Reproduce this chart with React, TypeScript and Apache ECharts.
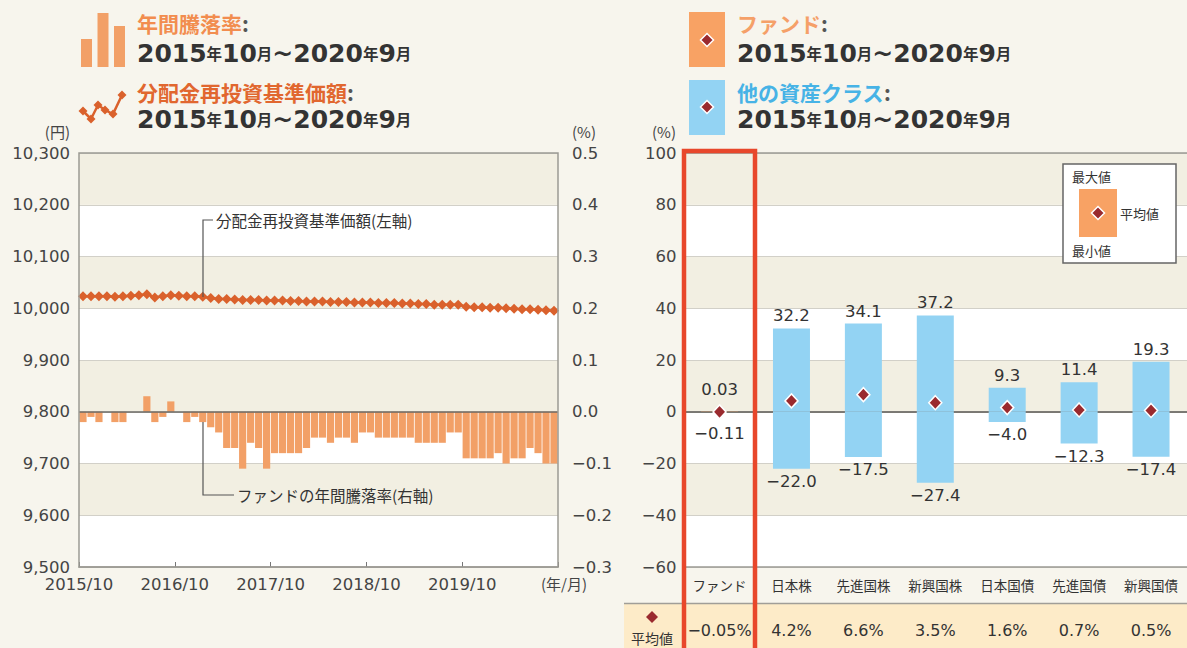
import React, { useEffect, useRef } from 'react';
import * as echarts from 'echarts';

const FONT = '"Noto Sans CJK JP", "Noto Sans", sans-serif';
const NUMFONT = '"DejaVu Sans", "Noto Sans", sans-serif';

// ---- Left chart data ----
const months: string[] = [];
for (let i = 0; i < 60; i++) {
  const m = ((9 + i) % 12) + 1;
  const y = 2015 + Math.floor((9 + i) / 12);
  months.push(`${y}/${m}`);
}

const fundReturn = [
  -0.02, -0.01, -0.02, 0, -0.02, -0.02, 0, 0, 0.03, -0.02,
  -0.01, 0.02, 0, -0.02, -0.01, -0.02, -0.03, -0.04, -0.07, -0.07,
  -0.11, -0.06, -0.07, -0.11, -0.08, -0.08, -0.08, -0.08, -0.07, -0.05,
  -0.05, -0.06, -0.05, -0.05, -0.06, -0.04, -0.04, -0.05, -0.05, -0.05,
  -0.05, -0.05, -0.06, -0.06, -0.06, -0.06, -0.04, -0.04, -0.09, -0.09,
  -0.09, -0.09, -0.08, -0.10, -0.09, -0.09, -0.07, -0.08, -0.10, -0.10,
];

const navValues = [
  10023, 10023, 10023, 10023, 10022, 10023, 10024, 10025, 10027, 10021,
  10023, 10025, 10024, 10023, 10023, 10022, 10020, 10018, 10018, 10017,
  10016, 10016, 10016, 10015, 10015, 10015, 10014, 10014, 10013, 10013,
  10013, 10012, 10012, 10012, 10011, 10011, 10011, 10010, 10010, 10010,
  10009, 10009, 10008, 10008, 10007, 10007, 10007, 10007, 10003, 10002,
  10002, 10001, 10001, 10000, 9999, 9998, 9998, 9997, 9996, 9995,
];

const xTickLabels = ['2015/10', '2016/10', '2017/10', '2018/10', '2019/10', '(年/月)'];

// ---- Right chart data ----
const assetClasses = ['ファンド', '日本株', '先進国株', '新興国株', '日本国債', '先進国債', '新興国債'];
const maxReturn = [0.03, 32.2, 34.1, 37.2, 9.3, 11.4, 19.3];
const minReturn = [-0.11, -22.0, -17.5, -27.4, -4.0, -12.3, -17.4];
const avgReturn = [-0.05, 4.2, 6.6, 3.5, 1.6, 0.7, 0.5];

// ---- styles ----
const ORANGE_BAR = '#f2a067';
const NAV_COLOR = '#da612c';
const BLUE = '#93d3f3';
const DIAMOND = '#9a2a2e';
const CREAM = '#f2efe2';
const PAGE = '#f7f5ed';
const GRIDLINE = '#d2d0c8';
const TXT = '#333333';
const AXT = '#444444';

const L = { left: 79, top: 153, width: 479, height: 414 };
const R = { left: 683.6, top: 153, width: 509.6, height: 414 };

const minus = (s: string) => s.replace('-', '−');
const fmtRange = (v: number, i: number) => minus(i === 0 ? v.toFixed(2) : v.toFixed(1));
const fmtAvg = (i: number) => minus(i === 0 ? avgReturn[i].toFixed(2) : avgReturn[i].toFixed(1)) + '%';

const dateRich = {
  b: { fontSize: 25, fontWeight: 'bold', fill: TXT, fontFamily: NUMFONT, lineHeight: 24 },
  s: { fontSize: 15.5, fontWeight: 'bold', fill: TXT, fontFamily: FONT, lineHeight: 24 },
};
const dateText = '{b|2015}{s|年}{b|10}{s|月}{b|~2020}{s|年}{b|9}{s|月}';

function heading(x: number, y: number, label: string, color: string) {
  return {
    type: 'text', x, y, z: 100,
    style: {
      text: `{o|${label}}{c|:}`,
      verticalAlign: 'middle',
      rich: {
        o: { fontSize: 21, fontWeight: 'bold', fill: color, fontFamily: FONT, lineHeight: 20 },
        c: { fontSize: 21, fontWeight: 'bold', fill: '#555', fontFamily: FONT, lineHeight: 20 },
      },
    },
  };
}
function dateLine(x: number, y: number) {
  return { type: 'text', x, y, z: 100, style: { text: dateText, verticalAlign: 'middle', rich: dateRich } };
}
function diamondShape(cx: number, cy: number, r: number) {
  return {
    type: 'polygon', z: 101,
    shape: { points: [[cx, cy - r], [cx + r, cy], [cx, cy + r], [cx - r, cy]] },
    style: { fill: DIAMOND, stroke: '#fff', lineWidth: 1.5 },
  };
}
function plainText(x: number, y: number, text: string, size: number, opts: any = {}) {
  return {
    type: 'text', x, y, z: 100,
    style: {
      text, fontSize: size, fontFamily: opts.font || FONT, fill: opts.fill || TXT,
      align: opts.align || 'left', verticalAlign: 'middle', fontWeight: opts.weight || 'normal',
    },
  };
}

export default function App() {
  const ref = useRef<HTMLDivElement>(null);
  useEffect(() => {
    if (!ref.current) return;
    const chart = echarts.init(ref.current, undefined, { renderer: 'svg' });

    const iconPts = [[83, 111], [91, 119], [98, 105], [105, 110], [113, 114], [122, 95]];

    const graphics: any[] = [
      // left headings
      { type: 'rect', z: 100, shape: { x: 81, y: 39, width: 11, height: 28 }, style: { fill: ORANGE_BAR } },
      { type: 'rect', z: 100, shape: { x: 97.5, y: 13, width: 11, height: 54 }, style: { fill: ORANGE_BAR } },
      { type: 'rect', z: 100, shape: { x: 114, y: 26, width: 11, height: 41 }, style: { fill: ORANGE_BAR } },
      heading(137, 23, '年間騰落率', '#f28d4f'),
      dateLine(137, 53),
      {
        type: 'polyline', z: 100,
        shape: { points: iconPts },
        style: { stroke: NAV_COLOR, lineWidth: 2.5, fill: 'none' },
      },
      ...iconPts.map(([cx, cy]) => ({
        type: 'polygon', z: 101,
        shape: { points: [[cx, cy - 4.5], [cx + 4.5, cy], [cx, cy + 4.5], [cx - 4.5, cy]] },
        style: { fill: NAV_COLOR },
      })),
      heading(137, 92, '分配金再投資基準価額', '#e1672f'),
      dateLine(137, 119),
      // right headings
      { type: 'rect', z: 100, shape: { x: 689, y: 12, width: 36, height: 55 }, style: { fill: '#f8a264' } },
      diamondShape(707, 40, 6.5),
      heading(737, 23, 'ファンド', '#f5a068'),
      dateLine(737, 53),
      { type: 'rect', z: 100, shape: { x: 689, y: 80, width: 36, height: 55 }, style: { fill: BLUE } },
      diamondShape(707, 107, 6.5),
      heading(737, 92, '他の資産クラス', '#47b3e6'),
      dateLine(737, 119),
      // units
      plainText(70, 131, '(円)', 15, { align: 'right', fill: AXT }),
      plainText(572, 131, '(%)', 15, { fill: AXT }),
      plainText(676, 131, '(%)', 15, { align: 'right', fill: AXT }),
      // frames
      { type: 'rect', z: 90, shape: { x: L.left, y: L.top, width: L.width, height: L.height }, style: { fill: 'none', stroke: '#9c9a94', lineWidth: 1.5 } },
      { type: 'rect', z: 90, shape: { x: R.left, y: R.top, width: R.width, height: R.height }, style: { fill: 'none', stroke: '#9c9a94', lineWidth: 1.5 } },
      // left annotations
      { type: 'polyline', z: 95, shape: { points: [[213, 220], [203, 220], [203, 297]] }, style: { stroke: '#555', lineWidth: 1.2, fill: 'none' } },
      plainText(216, 220, '分配金再投資基準価額(左軸)', 15.5),
      { type: 'polyline', z: 95, shape: { points: [[203, 422], [203, 495], [234, 495]] }, style: { stroke: '#555', lineWidth: 1.2, fill: 'none' } },
      plainText(237, 495, 'ファンドの年間騰落率(右軸)', 15.5),
      // average row
      { type: 'rect', z: -5, shape: { x: 624, y: 604, width: 600, height: 50 }, style: { fill: '#fdebc8' } },
      { type: 'line', z: -4, shape: { x1: 624, y1: 603.5, x2: 1190, y2: 603.5 }, style: { stroke: '#a09e98', lineWidth: 1.5 } },
      { type: 'polygon', z: 3, shape: { points: [[652, 611], [658, 617], [652, 623], [646, 617]] }, style: { fill: DIAMOND } },
      plainText(652, 638, '平均値', 14, { align: 'center' }),
      // red highlight rect
      { type: 'rect', z: 120, shape: { x: 684, y: 151, width: 71, height: 520 }, style: { fill: 'none', stroke: '#e8472b', lineWidth: 4.5 } },
      // legend box
      { type: 'rect', z: 110, shape: { x: 1063, y: 164, width: 113, height: 99 }, style: { fill: '#fff', stroke: '#666', lineWidth: 1.5 } },
      { type: 'rect', z: 111, shape: { x: 1079, y: 189, width: 38, height: 48 }, style: { fill: '#f8a264' } },
      { ...diamondShape(1098, 213, 6.5), z: 112 },
      { ...plainText(1072, 176, '最大値', 13), z: 112 },
      { ...plainText(1120, 213, '平均値', 13), z: 112 },
      { ...plainText(1072, 250, '最小値', 13), z: 112 },
    ];

    const option: any = {
      animation: false,
      backgroundColor: PAGE,
      textStyle: { fontFamily: FONT },
      grid: [
        { left: L.left, top: L.top, width: L.width, height: L.height },
        { left: R.left, top: R.top, width: R.width, height: R.height },
      ],
      xAxis: [
        {
          type: 'category', gridIndex: 0, data: months, boundaryGap: true,
          axisLine: { show: false }, axisTick: { show: false }, axisLabel: { show: false }, splitLine: { show: false },
        },
        {
          type: 'value', gridIndex: 0, position: 'bottom', min: 0, max: 60, interval: 12,
          axisLine: { show: true, lineStyle: { color: '#9c9a94', width: 1.5 } },
          axisTick: { show: true, inside: true, length: 5, lineStyle: { color: '#777' } },
          splitLine: { show: false },
          axisLabel: {
            showMinLabel: true, showMaxLabel: true, fontSize: 16.5, color: AXT, margin: 9, fontFamily: NUMFONT,
            formatter: (v: number) => {
              const k = Math.round(v / 12);
              return k === 5 ? '{u|' + xTickLabels[k] + '}' : xTickLabels[k] ?? '';
            },
            rich: { u: { fontSize: 15, color: AXT, fontFamily: FONT, padding: [0, 0, 0, 12] } },
          },
        },
        {
          type: 'category', gridIndex: 1, data: assetClasses, position: 'bottom',
          axisLine: { show: true, lineStyle: { color: '#9c9a94', width: 1.5 } }, axisTick: { show: false },
          axisLabel: { interval: 0, fontSize: 13.5, color: TXT, margin: 11 },
        },
        {
          type: 'category', gridIndex: 1, data: assetClasses, position: 'bottom', offset: 52, z: 10,
          axisLine: { show: false }, axisTick: { show: false },
          axisLabel: {
            interval: 0, fontSize: 16, color: TXT, margin: 3, fontFamily: NUMFONT,
            formatter: (_v: string, i: number) => fmtAvg(i),
          },
        },
      ],
      yAxis: [
        {
          type: 'value', gridIndex: 0, position: 'left', min: 9500, max: 10300, interval: 100,
          axisLine: { show: false }, axisTick: { show: false },
          splitLine: { lineStyle: { color: GRIDLINE } },
          splitArea: { show: true, areaStyle: { color: ['#ffffff', CREAM] } },
          axisLabel: { fontSize: 16.5, color: AXT, margin: 9, fontFamily: NUMFONT, formatter: (v: number) => v.toLocaleString('en-US') },
        },
        {
          type: 'value', gridIndex: 0, position: 'right', min: -0.3, max: 0.5, interval: 0.1,
          axisLine: { show: false }, axisTick: { show: false }, splitLine: { show: false },
          axisLabel: { fontSize: 16.5, color: AXT, margin: 14, fontFamily: NUMFONT, formatter: (v: number) => minus(v.toFixed(1)) },
        },
        {
          type: 'value', gridIndex: 1, min: -60, max: 100, interval: 20,
          axisLine: { show: false }, axisTick: { show: false },
          splitLine: { lineStyle: { color: GRIDLINE } },
          splitArea: { show: true, areaStyle: { color: ['#ffffff', CREAM] } },
          axisLabel: { fontSize: 16.5, color: AXT, margin: 7, fontFamily: NUMFONT, formatter: (v: number) => minus(String(v)) },
        },
      ],
      series: [
        {
          type: 'bar', xAxisIndex: 0, yAxisIndex: 1, data: fundReturn, barCategoryGap: '10%',
          itemStyle: { color: ORANGE_BAR },
          markLine: {
            silent: true, symbol: 'none', label: { show: false },
            lineStyle: { color: '#6a6864', width: 1.5, type: 'solid' }, data: [{ yAxis: 0 }],
          },
        },
        {
          type: 'line', xAxisIndex: 0, yAxisIndex: 0, data: navValues,
          symbol: 'diamond', symbolSize: 10, showAllSymbol: true,
          lineStyle: { color: NAV_COLOR, width: 2.5 }, itemStyle: { color: NAV_COLOR },
        },
        {
          type: 'bar', xAxisIndex: 2, yAxisIndex: 2, barWidth: 37, barGap: '-100%',
          data: maxReturn.map((v, i) => ({
            value: v,
            itemStyle: { color: i === 0 ? '#f8a264' : BLUE },
            label: { distance: i === 0 ? 14 : 4 },
          })),
          label: {
            show: true, position: 'top', fontSize: 16.5, color: TXT, fontFamily: NUMFONT,
            formatter: (p: any) => fmtRange(p.value, p.dataIndex),
          },
        },
        {
          type: 'bar', xAxisIndex: 2, yAxisIndex: 2, barWidth: 37, barGap: '-100%',
          data: minReturn.map((v, i) => ({
            value: v,
            itemStyle: { color: i === 0 ? '#f8a264' : BLUE },
            label: { distance: i === 0 ? 13 : 4 },
          })),
          label: {
            show: true, position: 'bottom', fontSize: 16.5, color: TXT, fontFamily: NUMFONT,
            formatter: (p: any) => fmtRange(p.value, p.dataIndex),
          },
        },
        {
          type: 'scatter', xAxisIndex: 2, yAxisIndex: 2, data: avgReturn, z: 5,
          symbol: 'diamond', symbolSize: [13, 14],
          itemStyle: { color: DIAMOND, borderColor: '#ffffff', borderWidth: 1.5, opacity: 1 },
          markLine: {
            silent: true, symbol: 'none', label: { show: false }, z: 1,
            lineStyle: { color: '#6a6864', width: 1.5, type: 'solid' }, data: [{ yAxis: 0 }],
          },
        },
      ],
      graphic: { elements: graphics },
    };

    chart.setOption(option);
    return () => chart.dispose();
  }, []);

  return (
    <div style={{ position: 'fixed', left: 0, top: 0, width: 1187, height: 648, overflow: 'hidden', background: PAGE }}>
      <div ref={ref} style={{ width: 1187, height: 648 }} />
    </div>
  );
}
